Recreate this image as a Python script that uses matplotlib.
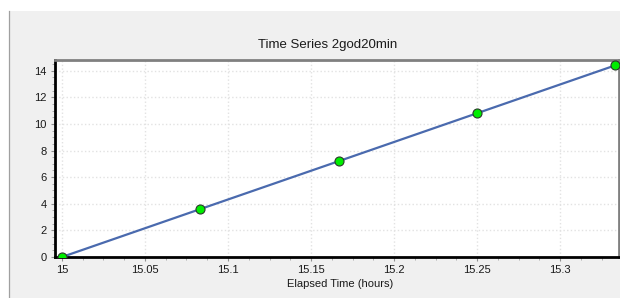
import matplotlib
matplotlib.use("Agg")
import matplotlib.pyplot as plt
from matplotlib.patches import Rectangle
from matplotlib.lines import Line2D
from matplotlib.ticker import MultipleLocator

# data
hours = [15.0, 15.0833, 15.1667, 15.25, 15.3333]
values = [0.0, 3.6, 7.2, 10.8, 14.4]
xticks = [15, 15.05, 15.1, 15.15, 15.2, 15.25, 15.3]
xtick_labels = ["15", "15.05", "15.1", "15.15", "15.2", "15.25", "15.3"]
yticks = [0, 2, 4, 6, 8, 10, 12, 14]

plt.rcParams["font.family"] = ["Liberation Sans", "DejaVu Sans"]

W, H = 620, 298
fig = plt.figure(figsize=(W / 100, H / 100), dpi=100)
fig.patch.set_facecolor("white")

# grey panel behind the chart, with a thin border on its left side only
panel = Rectangle((9 / W, 0), 1 - 9 / W, 1 - 11 / H, transform=fig.transFigure,
                  facecolor="#f0f0f0", edgecolor="none", zorder=-5)
fig.patches.append(panel)
fig.lines.append(Line2D([9 / W, 9 / W], [0, 1 - 11 / H], transform=fig.transFigure,
                        color="#a0a0a0", linewidth=0.9, zorder=-4))

ax = fig.add_axes([55 / W, 1 - 257 / H, (619 - 55) / W, (257 - 60) / H])
ax.set_zorder(2)
ax.set_facecolor("white")

ax.plot(hours, values, color="#4a6aae", linewidth=1.6, zorder=3)
ax.plot(hours, values, linestyle="none", marker="o", markersize=6.5,
        markerfacecolor="#00ee00", markeredgecolor="#2a3a2a",
        markeredgewidth=0.8, zorder=4)

ax.set_xlim(14.9958, 15.3355)
ax.set_ylim(0, 14.8)
ax.set_xticks(xticks)
ax.set_xticklabels(xtick_labels)
ax.set_yticks(yticks)
ax.xaxis.set_minor_locator(MultipleLocator(0.0125))
ax.yaxis.set_minor_locator(MultipleLocator(0.5))

ax.grid(True, which="major", color="#e2e2e2", linestyle=":", linewidth=1.0, zorder=1)

ax.tick_params(axis="both", which="major", direction="out", length=3, width=0.8,
               color="#909090", labelsize=8, labelcolor="#1a1a1a", pad=3)
ax.tick_params(axis="both", which="minor", direction="out", length=2, width=0.6,
               color="#a0a0a0")

for side in ["left", "bottom"]:
    ax.spines[side].set_color("black")
    ax.spines[side].set_linewidth(2)
for side in ["top", "right"]:
    ax.spines[side].set_color("#808080")
    ax.spines[side].set_linewidth(2)

fig.text(328 / W, 1 - 45 / H, "Time Series 2god20min", ha="center", va="center",
         fontsize=9.5, color="#1a1a1a")
fig.text(340 / W, 1 - 284 / H, "Elapsed Time (hours)", ha="center", va="center",
         fontsize=8, color="#1a1a1a")

fig.savefig("out.png", dpi=100, facecolor=fig.get_facecolor())
